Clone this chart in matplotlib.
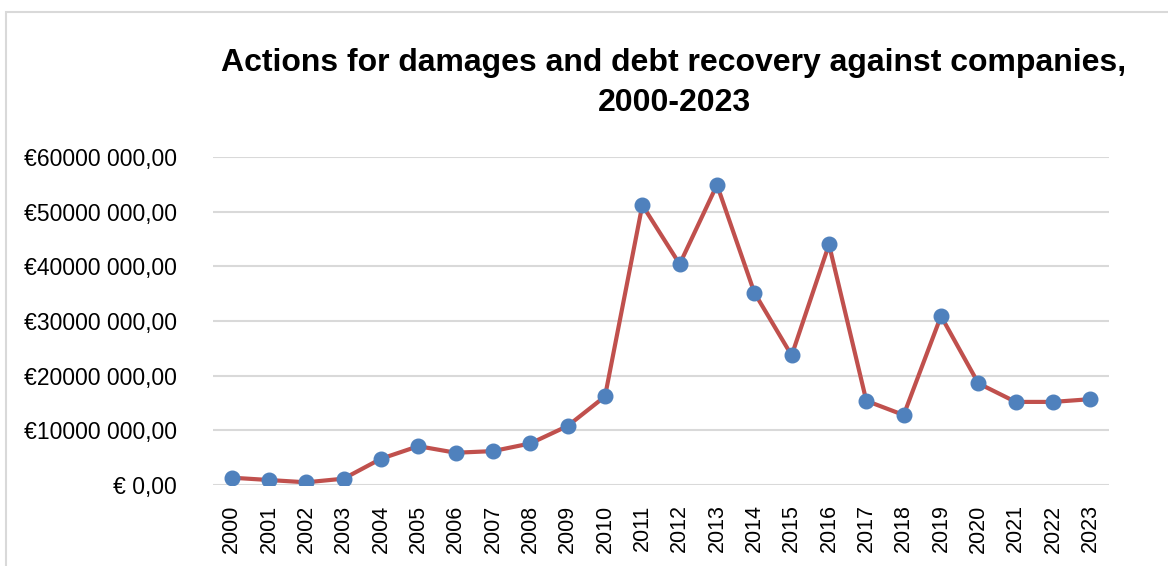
import matplotlib
matplotlib.use('Agg')
from matplotlib import pyplot as plt
from matplotlib.ticker import FuncFormatter
from matplotlib.patches import Rectangle

# years and amounts (EUR)
years = [str(y) for y in range(2000, 2024)]
amounts = [1.34e6, 0.91e6, 0.49e6, 1.16e6, 4.8e6, 7.1e6, 5.9e6, 6.2e6,
           7.6e6, 10.8e6, 16.2e6, 51.2e6, 40.4e6, 54.9e6, 35.2e6, 23.7e6,
           44.0e6, 15.4e6, 12.8e6, 30.9e6, 18.6e6, 15.2e6, 15.2e6, 15.7e6]
y_ticks = [0, 10e6, 20e6, 30e6, 40e6, 50e6, 60e6]

title = 'Actions for damages and debt recovery against companies,\n2000-2023'


def euro(v, pos=None):
    if v == 0:
        return '€ 0,00'
    s = '%d' % int(round(v))
    return '€' + s[:-3] + ' ' + s[-3:] + ',00'


def main():
    plt.rcParams['font.family'] = ['Liberation Sans', 'DejaVu Sans']

    fig = plt.figure(figsize=(11.68, 5.66), dpi=100)
    ax = fig.add_axes([213 / 1168, 1 - 485 / 566, 896 / 1168, 328 / 566])

    # chart frame
    fig.patches.append(Rectangle((6 / 1168, -0.1), 1.2, 1 - 12 / 566 + 0.1,
                                 transform=fig.transFigure, fill=False,
                                 edgecolor='#D9D9D9', linewidth=1.5))

    x = range(len(years))
    ax.plot(x, amounts, color='#C0504D', linewidth=3,
            marker='o', markersize=10.5, markerfacecolor='#4F81BD',
            markeredgecolor='#4F81BD', zorder=3)

    ax.set_xlim(-0.5, len(years) - 0.5)
    ax.set_ylim(0, 60e6)
    ax.set_xticks(list(x))
    ax.set_xticklabels(years, rotation=90, fontsize=15.5)
    ax.set_yticks(y_ticks)
    ax.yaxis.set_major_formatter(FuncFormatter(euro))
    ax.tick_params(axis='y', labelsize=16.5, length=0, pad=26)
    ax.tick_params(axis='x', length=0, pad=14)

    ax.grid(axis='y', color='#D9D9D9', linewidth=1.5)
    ax.set_axisbelow(True)
    for s in ax.spines.values():
        s.set_visible(False)

    fig.text(674 / 1168, 1 - 83 / 566, title, ha='center', va='center',
             fontsize=23, fontweight='bold', linespacing=1.4)

    fig.savefig('out.png', dpi=100)


if __name__ == '__main__':
    main()
